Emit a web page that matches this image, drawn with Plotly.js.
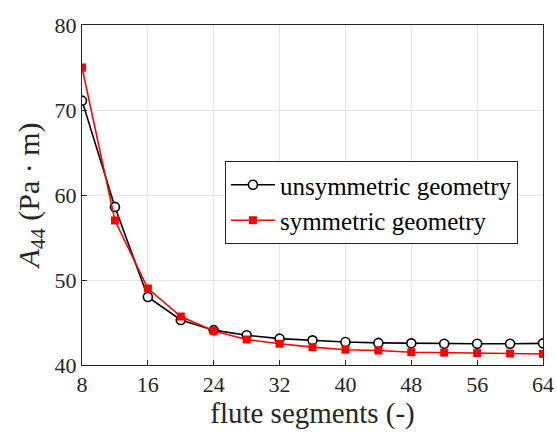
<!DOCTYPE html>
<html><head><meta charset="utf-8">
<script src="https://cdn.plot.ly/plotly-3.0.1.min.js"></script>
<style>html,body{margin:0;padding:0;background:#fff}#chart{width:557px;height:435px}</style>
</head><body><div id="chart"></div>
<script>
const segments = [8,12,16,20,24,28,32,36,40,44,48,52,56,60,64];
const unsymmetric = [71.1,58.6,48.0,45.3,44.1,43.5,43.1,42.9,42.7,42.6,42.55,42.5,42.5,42.5,42.55];
const symmetric = [75.0,57.0,49.0,45.7,44.0,43.0,42.5,42.1,41.8,41.7,41.5,41.45,41.4,41.35,41.3];
const xTicks = [8,16,24,32,40,48,56,64];
const yTicks = [40,50,60,70,80];
const font = "Liberation Serif, serif";
const traces = [
 {x: segments, y: unsymmetric, name: 'unsymmetric geometry', mode: 'lines+markers',
  line: {color: '#000', width: 1.6},
  marker: {symbol: 'circle', size: 9, color: '#fff', line: {color: '#000', width: 1.6}}},
 {x: segments, y: symmetric, name: 'symmetric geometry', mode: 'lines+markers',
  line: {color: '#ff0000', width: 1.6},
  marker: {symbol: 'square', size: 8, color: '#ff0000', line: {color: '#ff0000', width: 0}}}
];
const layout = {
 width: 557, height: 435,
 margin: {l: 82, r: 14, t: 25, b: 70},
 paper_bgcolor: '#fff', plot_bgcolor: '#fff',
 font: {family: font, color: '#262626', size: 22},
 showlegend: true,
 legend: {x: 0.31, y: 0.6, xanchor: 'left', yanchor: 'top', bgcolor: '#fff',
   bordercolor: '#262626', borderwidth: 1, font: {family: font, size: 25, color: '#000'},
   tracegroupgap: 0, itemwidth: 44},
 xaxis: {range: [8, 64], tickvals: xTicks, ticktext: xTicks.map(String), showgrid: true,
   gridcolor: '#e6e6e6', zeroline: false, showline: true, linecolor: '#262626', mirror: true,
   ticks: 'inside', ticklen: 5, tickcolor: '#262626', tickfont: {size: 22},
   title: {text: 'flute segments (-)', font: {family: font, size: 29, color: '#262626'}, standoff: 4}},
 yaxis: {range: [40, 80], tickvals: yTicks, ticktext: yTicks.map(String), showgrid: true,
   gridcolor: '#e6e6e6', zeroline: false, showline: true, linecolor: '#262626', mirror: true,
   ticks: 'inside', ticklen: 5, tickcolor: '#262626', tickfont: {size: 22},
   title: {text: '<i>A</i><sub>44</sub> (Pa · m)', font: {family: font, size: 30, color: '#262626'}, standoff: 6}}
};
Plotly.newPlot('chart', traces, layout, {displayModeBar: false, staticPlot: true});
</script></body></html>
